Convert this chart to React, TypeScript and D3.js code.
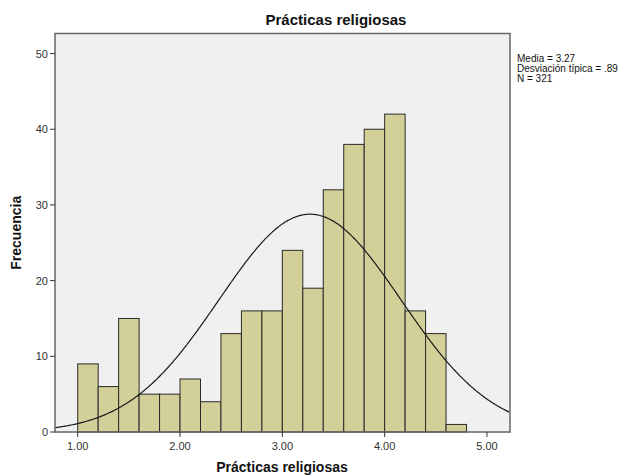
import React from "react";
import * as d3 from "d3";

const binStarts = [1.0, 1.2, 1.4, 1.6, 1.8, 2.0, 2.2, 2.4, 2.6, 2.8, 3.0, 3.2, 3.4, 3.6, 3.8, 4.0, 4.2, 4.4, 4.6];
const counts = [9, 6, 15, 5, 5, 7, 4, 13, 16, 16, 24, 19, 32, 38, 40, 42, 16, 13, 1];
const binWidth = 0.2;
const xTicks = [1, 2, 3, 4, 5];
const yTicks = [0, 10, 20, 30, 40, 50];
const mean = 3.27;
const sd = 0.89;
const n = 321;
const statLines = ["Media = 3.27", "Desviación típica = .89", "N = 321"];

const W = 642, H = 476;
const left = 55, right = 510, top = 33.5, bottom = 432;

export default function App() {
  const x = d3.scaleLinear().domain([0.778, 5.225]).range([left, right]);
  const y = d3.scaleLinear().domain([0, 52.65]).range([bottom, top]);
  const pts = d3.range(0.778, 5.2251, 0.01).map((v) => [v, n * binWidth * Math.exp(-0.5 * ((v - mean) / sd) ** 2) / (sd * Math.sqrt(2 * Math.PI))] as [number, number]);
  const line = d3.line<[number, number]>().x((d) => x(d[0])).y((d) => y(d[1])).curve(d3.curveBasis);
  const font = "Arial, 'Liberation Sans', sans-serif";
  return (
    <svg width={W} height={H} style={{ position: "absolute", left: 0, top: 0 }} fontFamily={font}>
      <rect x={0} y={0} width={W} height={H} fill="#fff" />
      <text x={336} y={25} textAnchor="middle" fontWeight="bold" fontSize={15} fill="#111">Prácticas religiosas</text>
      <rect x={left} y={top} width={right - left} height={bottom - top} fill="#f0f0f0" />
      <clipPath id="clip"><rect x={left} y={top} width={right - left} height={bottom - top} /></clipPath>
      {counts.map((c, i) => (
        <rect key={i} x={x(binStarts[i])} y={y(c)} width={x(binStarts[i] + binWidth) - x(binStarts[i])} height={y(0) - y(c)}
          fill="#d3cf99" stroke="#2a2a2a" strokeWidth={1} />
      ))}
      <path d={line(pts) || ""} fill="none" stroke="#1a1a1a" strokeWidth={1.2} clipPath="url(#clip)" />
      <rect x={left} y={top} width={right - left} height={bottom - top} fill="none" stroke="#666" strokeWidth={1.5} />
      {yTicks.map((t) => (
        <g key={t}>
          <line x1={left - 5} x2={left} y1={y(t)} y2={y(t)} stroke="#333" />
          <text x={left - 7} y={y(t) + 4} textAnchor="end" fontSize={11} fill="#333">{t}</text>
        </g>
      ))}
      {xTicks.map((t) => (
        <g key={t}>
          <line x1={x(t)} x2={x(t)} y1={bottom} y2={bottom + 5} stroke="#333" />
          <text x={x(t)} y={bottom + 18} textAnchor="middle" fontSize={11} fill="#333">{t.toFixed(2)}</text>
        </g>
      ))}
      <text x={282} y={472} textAnchor="middle" fontWeight="bold" fontSize={14} fill="#111">Prácticas religiosas</text>
      <text transform={`translate(21,${(top + bottom) / 2}) rotate(-90)`} textAnchor="middle" fontWeight="bold" fontSize={14} fill="#111">Frecuencia</text>
      {statLines.map((s, i) => (
        <text key={i} x={517} y={62 + i * 10} fontSize={10} fill="#111">{s}</text>
      ))}
    </svg>
  );
}
